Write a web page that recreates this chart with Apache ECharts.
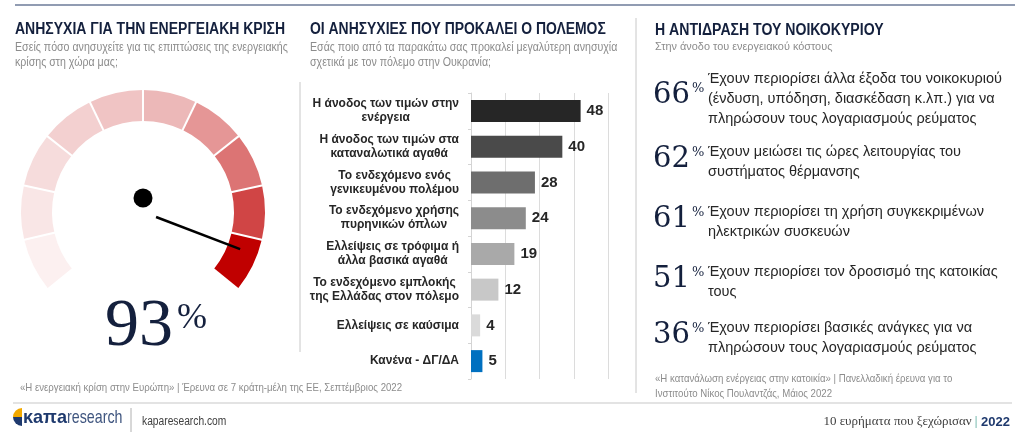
<!DOCTYPE html>
<html>
<head>
<meta charset="utf-8">
<script src="https://cdn.jsdelivr.net/npm/echarts@6/dist/echarts.min.js"></script>
<style>
  html, body { margin: 0; padding: 0; background: #fff; }
  #chart { width: 1024px; height: 441px; }
</style>
</head>
<body>
<div id="chart"></div>
<script>
// gauge: energy crisis worry
var gaugeValue = 93;
var gaugeColors = ['#fcf0f0', '#f9e6e6', '#f6dcdc', '#f3d0d0', '#f0c4c4',
    '#ecb8b8', '#e59696', '#dc7474', '#d04545', '#c00000'];

// bars: worries caused by the war
var warCategories = [
    'Η άνοδος των τιμών στην\nενέργεια',
    'Η άνοδος των τιμών στα\nκαταναλωτικά αγαθά',
    'Το ενδεχόμενο ενός\nγενικευμένου πολέμου',
    'Το ενδεχόμενο χρήσης\nπυρηνικών όπλων',
    'Ελλείψεις σε τρόφιμα ή\nάλλα βασικά αγαθά',
    'Το ενδεχόμενο εμπλοκής\nτης Ελλάδας στον πόλεμο',
    'Ελλείψεις σε καύσιμα',
    'Κανένα - ΔΓ/ΔΑ'
];
var warValues = [48, 40, 28, 24, 19, 12, 4, 5];
var barColors = ['#262626', '#4a4a4a', '#6e6e6e', '#8c8c8c', '#a9a9a9', '#c8c8c8', '#dadada', '#0070c0'];

// household reaction
var actionPct = [66, 62, 61, 51, 36];
var actionText = [
    'Έχουν περιορίσει άλλα έξοδα του νοικοκυριού\n(ένδυση, υπόδηση, διασκέδαση κ.λπ.) για να\nπληρώσουν τους λογαριασμούς ρεύματος',
    'Έχουν μειώσει τις ώρες λειτουργίας του\nσυστήματος θέρμανσης',
    'Έχουν περιορίσει τη χρήση συγκεκριμένων\nηλεκτρικών συσκευών',
    'Έχουν περιορίσει τον δροσισμό της κατοικίας\nτους',
    'Έχουν περιορίσει βασικές ανάγκες για να\nπληρώσουν τους λογαριασμούς ρεύματος'
];

var navy = '#14203d';
var grey = '#8c8c8c';
var sans = "'Liberation Sans', Arial, sans-serif";

var chart = echarts.init(document.getElementById('chart'));

// condensed text helper: no narrow font installed, so squeeze horizontally
function txt(x, y, text, font, fill, sx, extra) {
    var style = { text: text, font: font + ' ' + sans, fill: fill, textVerticalAlign: 'middle' };
    for (var k in extra) style[k] = extra[k];
    return { type: 'text', x: x, y: y, scaleX: sx, style: style };
}

var graphics = [
    // frame lines
    { type: 'line', shape: { x1: 15, y1: 5, x2: 1015, y2: 5 }, style: { stroke: '#6d7b99', lineWidth: 1.5 } },
    { type: 'line', shape: { x1: 300, y1: 82, x2: 300, y2: 352 }, style: { stroke: '#c8c8c8', lineWidth: 1 } },
    { type: 'line', shape: { x1: 636, y1: 18, x2: 636, y2: 393 }, style: { stroke: '#c8c8c8', lineWidth: 1 } },
    { type: 'line', shape: { x1: 13, y1: 403, x2: 1012, y2: 403 }, style: { stroke: '#e3e3e3', lineWidth: 2 } },

    // titles
    txt(15, 30, 'ΑΝΗΣΥΧΙΑ ΓΙΑ ΤΗΝ ΕΝΕΡΓΕΙΑΚΗ ΚΡΙΣΗ', 'bold 16px', navy, 0.875),
    txt(15, 40, 'Εσείς πόσο ανησυχείτε για τις επιπτώσεις της ενεργειακής\nκρίσης στη χώρα μας;', '12.5px', grey, 0.85, { lineHeight: 15, textVerticalAlign: 'top' }),
    txt(310, 30, 'ΟΙ ΑΝΗΣΥΧΙΕΣ ΠΟΥ ΠΡΟΚΑΛΕΙ Ο ΠΟΛΕΜΟΣ', 'bold 16px', navy, 0.87),
    txt(310, 40, 'Εσάς ποιο από τα παρακάτω σας προκαλεί μεγαλύτερη ανησυχία\nσχετικά με τον πόλεμο στην Ουκρανία;', '12.5px', grey, 0.85, { lineHeight: 15, textVerticalAlign: 'top' }),
    txt(655, 31, 'Η ΑΝΤΙΔΡΑΣΗ ΤΟΥ ΝΟΙΚΟΚΥΡΙΟΥ', 'bold 16px', navy, 0.88),
    txt(655, 47, 'Στην άνοδο του ενεργειακού κόστους', '11px', grey, 0.99),

    // big gauge number
    { type: 'text', x: 173, y: 327, style: { text: String(gaugeValue), font: '68px "Liberation Serif", serif', fill: navy, textAlign: 'right', textVerticalAlign: 'middle' } },
    { type: 'text', x: 177, y: 301, style: { text: '%', font: '36px "Liberation Serif", serif', fill: navy, textAlign: 'left', textVerticalAlign: 'top' } },

    // sources
    txt(20, 388, '«Η ενεργειακή κρίση στην Ευρώπη» | Έρευνα σε 7 κράτη-μέλη της ΕΕ, Σεπτέμβριος 2022', '11px', grey, 0.875),
    txt(655, 371, '«Η κατανάλωση ενέργειας στην κατοικία» | Πανελλαδική έρευνα για το\nΙνστιτούτο Νίκος Πουλαντζάς, Μάιος 2022', '11px', grey, 0.875, { lineHeight: 15, textVerticalAlign: 'top' }),

    // logo + footer
    { type: 'sector', shape: { cx: 22, cy: 417, r0: 0, r: 9, startAngle: Math.PI, endAngle: Math.PI * 1.5 }, style: { fill: '#f2a900' } },
    { type: 'sector', shape: { cx: 22, cy: 417, r0: 0, r: 9, startAngle: Math.PI * 0.5, endAngle: Math.PI }, style: { fill: '#1f3a6e' } },
    txt(23, 418, 'κaπa', 'bold 19px', '#1f3a6e', 0.95),
    txt(67, 418, 'research', '19px', '#3f557f', 0.75),
    { type: 'line', shape: { x1: 131, y1: 408, x2: 131, y2: 432 }, style: { stroke: '#b0b0b0', lineWidth: 1 } },
    txt(142, 422, 'kaparesearch.com', '12.5px', '#404040', 0.82),
    { type: 'text', x: 1010, y: 422, style: { text: '{a|10 ευρήματα που ξεχώρισαν }{s||}{b| 2022}', textAlign: 'right', textVerticalAlign: 'middle',
        rich: { a: { font: '13px "Liberation Serif", serif', fill: '#404040' }, s: { font: '13px "Liberation Serif", serif', fill: '#3a9a8a' }, b: { font: 'bold 13px ' + sans, fill: '#1f3a6e' } } } }
];

// household reaction rows
var rowLine1 = [79, 152, 212, 272, 328];
actionPct.forEach(function (p, i) {
    var lines = actionText[i].split('\n').length;
    var numY = rowLine1[i] + (lines > 2 ? 16 : 7);
    graphics.push({ type: 'text', x: 690, y: numY, style: { text: String(p), font: '29px "DejaVu Serif", serif', fill: navy, textAlign: 'right', textVerticalAlign: 'middle' } });
    graphics.push({ type: 'text', x: 692, y: numY - 13, style: { text: '%', font: '13px "DejaVu Serif", serif', fill: navy, textAlign: 'left', textVerticalAlign: 'top' } });
    graphics.push({ type: 'text', x: 708, y: rowLine1[i] - 10, style: { text: actionText[i], font: '14.5px ' + sans, fill: '#262626', lineHeight: 20, textVerticalAlign: 'top' } });
});

var segStops = gaugeColors.map(function (c, i) { return [(i + 1) / gaugeColors.length, c]; });

var option = {
    backgroundColor: '#fff',
    animation: false,
    grid: { left: 471, right: 416, top: 93, bottom: 62, containLabel: false },
    xAxis: {
        type: 'value',
        min: 0,
        max: 60,
        interval: 15,
        axisLine: { show: false },
        axisTick: { show: false },
        axisLabel: { show: false },
        splitLine: { lineStyle: { color: '#dcdcdc', width: 1 } }
    },
    yAxis: {
        type: 'category',
        inverse: true,
        data: warCategories,
        axisLine: { lineStyle: { color: '#d4d4d4' } },
        axisTick: { show: true, length: 3, lineStyle: { color: '#d4d4d4' } },
        axisLabel: {
            margin: 12,
            formatter: function (v) {
                return v.split('\n').map(function (s) { return '{c|' + s + '}'; }).join('\n');
            },
            rich: {
                c: { align: 'center', fontFamily: sans, fontWeight: 'bold', fontSize: 12, color: '#262626', lineHeight: 14 }
            }
        }
    },
    series: [{
        type: 'bar',
        barWidth: 22,
        data: warValues.map(function (v, i) { return { value: v, itemStyle: { color: barColors[i] } }; }),
        label: {
            show: true,
            position: 'right',
            distance: 6,
            fontFamily: sans,
            fontWeight: 'bold',
            fontSize: 15,
            color: '#262626'
        }
    }, {
        type: 'gauge',
        center: [143, 212],
        radius: 122,
        startAngle: 219,
        endAngle: -39,
        min: 0,
        max: 100,
        splitNumber: 10,
        axisLine: { lineStyle: { width: 31, color: segStops } },
        splitLine: { length: 34, distance: -32, lineStyle: { color: '#fff', width: 2 } },
        axisTick: { show: false },
        axisLabel: { show: false },
        pointer: { icon: 'rect', length: 90, width: 2.5, offsetCenter: [0, -14], itemStyle: { color: '#000' } },
        anchor: { show: true, showAbove: true, size: 19, offsetCenter: [0, -14], itemStyle: { color: '#000' } },
        title: { show: false },
        detail: { show: false },
        data: [{ value: gaugeValue }]
    }],
    graphic: graphics
};

chart.setOption(option);
</script>
</body>
</html>
